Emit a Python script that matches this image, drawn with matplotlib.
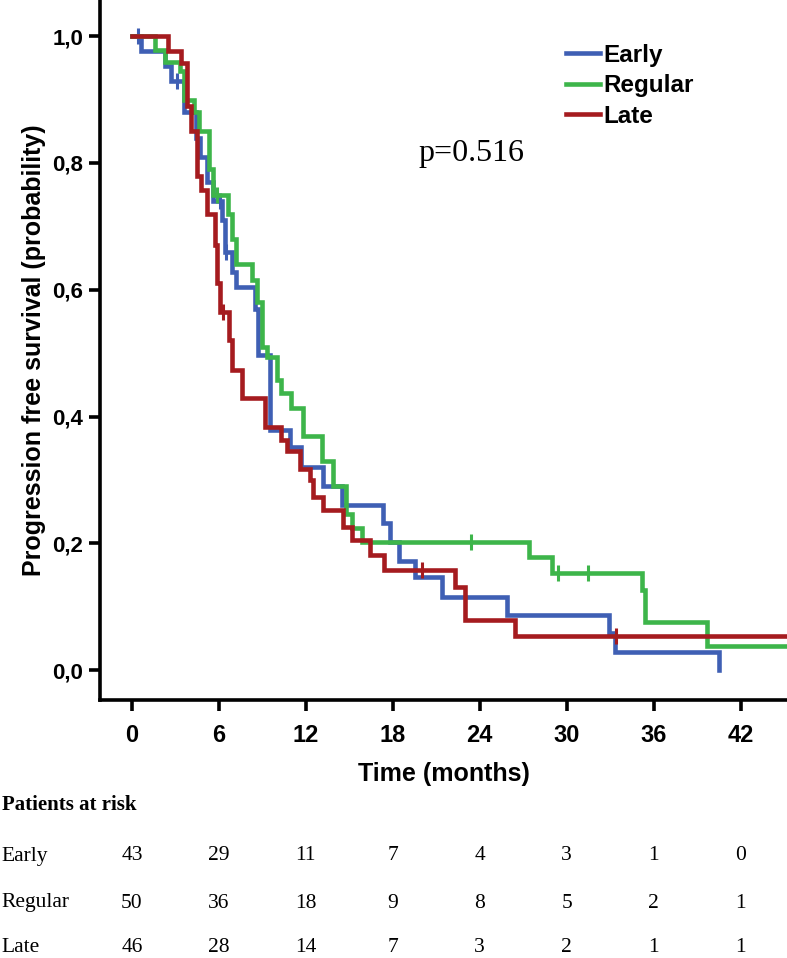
import matplotlib.pyplot as plt
import numpy as np
from matplotlib.transforms import blended_transform_factory

# curvas de Kaplan-Meier (tempo do evento, sobrevida depois do degrau)
early_t = [0, 0.6, 2.3, 2.7, 3.6, 4.4, 4.7, 5.2, 5.6, 6.2, 6.4, 6.9, 7.2, 8.5, 8.7, 9.5,
           10.9, 11.7, 13.2, 14.5, 17.3, 17.8, 18.4, 19.5, 21.4, 25.9, 32.9, 33.3, 40.5]
early_s = [1.0, 0.977, 0.953, 0.930, 0.880, 0.840, 0.810, 0.770, 0.740, 0.710, 0.660, 0.628,
           0.604, 0.570, 0.497, 0.379, 0.352, 0.320, 0.290, 0.260, 0.232, 0.202, 0.173, 0.147,
           0.115, 0.087, 0.058, 0.028, 0.0]
early_cens = [0.4, 3.1, 6.1, 6.5]
early_fim = 40.5

regular_t = [0, 1.6, 2.3, 3.3, 3.6, 4.3, 4.6, 5.3, 5.6, 6.6, 6.9, 7.2, 8.3, 8.6, 9.0, 9.3,
             10.0, 10.3, 11.0, 11.8, 13.1, 13.9, 14.8, 15.2, 15.9, 27.4, 29.0, 35.2, 35.4, 39.7]
regular_s = [1.0, 0.978, 0.960, 0.945, 0.900, 0.880, 0.850, 0.790, 0.750, 0.720, 0.680, 0.640,
             0.615, 0.580, 0.510, 0.494, 0.457, 0.437, 0.413, 0.370, 0.330, 0.290, 0.247, 0.225,
             0.202, 0.178, 0.153, 0.127, 0.076, 0.038]
regular_cens = [5.9, 23.4, 29.4, 31.5]
regular_fim = 46

late_t = [0, 2.5, 3.4, 3.8, 4.1, 4.5, 4.8, 5.2, 5.7, 5.9, 6.1, 6.7, 6.9, 7.6, 9.2, 10.3,
          10.7, 11.6, 12.3, 12.5, 13.2, 14.6, 15.2, 16.4, 17.4, 22.3, 23.0, 26.4]
late_s = [1.0, 0.976, 0.957, 0.890, 0.850, 0.780, 0.757, 0.720, 0.670, 0.610, 0.565, 0.520,
          0.473, 0.430, 0.383, 0.363, 0.345, 0.318, 0.300, 0.273, 0.252, 0.226, 0.205, 0.181,
          0.158, 0.131, 0.079, 0.054]
late_cens = [6.3, 20.0, 33.4]
late_fim = 46

grupos = ['Early', 'Regular', 'Late']
cores = ['#3f5fb4', '#3db54a', '#a51b1f']

# pacientes em risco
tempos_risco = [0, 6, 12, 18, 24, 30, 36, 42]
risco_early = [43, 29, 11, 7, 4, 3, 1, 0]
risco_regular = [50, 36, 18, 9, 8, 5, 2, 1]
risco_late = [46, 28, 14, 7, 3, 2, 1, 1]

curvas = [(early_t, early_s, early_cens, early_fim),
          (regular_t, regular_s, regular_cens, regular_fim),
          (late_t, late_s, late_cens, late_fim)]
riscos = [risco_early, risco_regular, risco_late]

sans = ['Liberation Sans', 'DejaVu Sans']
serif = ['Liberation Serif', 'DejaVu Serif']

fig = plt.figure(figsize=(7.87, 9.58), dpi=100)
ax = fig.add_axes([100 / 787, 1 - 700 / 958, 1 - 100 / 787, 700 / 958])

for (t, s, cens, fim), nome, cor in zip(curvas, grupos, cores):
    tt = list(t) + [fim]
    ss = list(s) + [s[-1]]
    ax.step(tt, ss, where='post', color=cor, lw=3.3, label=nome, solid_joinstyle='miter')
    # marcas de censura em cima da curva
    idx = np.searchsorted(t, cens, side='right') - 1
    ax.plot(cens, np.array(s)[idx], ls='none', marker='|', ms=11, mew=2.2, color=cor)

ax.set_xlim(-2.2, 45.2)
ax.set_ylim(-0.047, 1.057)
ax.set_xticks(tempos_risco)
ax.set_yticks([0, 0.2, 0.4, 0.6, 0.8, 1.0])
ax.set_yticklabels(['0,0', '0,2', '0,4', '0,6', '0,8', '1,0'])

for lado in ['top', 'right']:
    ax.spines[lado].set_visible(False)
for lado in ['left', 'bottom']:
    ax.spines[lado].set_linewidth(2.6)
ax.tick_params(direction='out', length=8, width=2.6)
ax.tick_params(axis='x', pad=9)
ax.tick_params(axis='y', pad=4)
for lab in ax.get_xticklabels():
    lab.set_family(sans)
    lab.set_fontweight('bold')
    lab.set_fontsize(17)
for lab in ax.get_yticklabels():
    lab.set_family(sans)
    lab.set_fontweight('bold')
    lab.set_fontsize(16)

ax.set_xlabel('Time (months)', family=sans, fontweight='bold', fontsize=18, labelpad=11)
ax.set_ylabel('Progression free survival (probability)', family=sans, fontweight='bold',
              fontsize=18, labelpad=5)

leg = ax.legend(loc='upper left', bbox_to_anchor=(566 / 787, 1 - 44 / 958),
                bbox_transform=fig.transFigure, frameon=False, handlelength=1.4,
                handletextpad=0.12, labelspacing=0.3, borderpad=0, borderaxespad=0,
                prop={'family': sans, 'weight': 'bold', 'size': 17.5})

ax.text(19.8, 0.815, 'p=0.516', family=serif, fontsize=23, ha='left', va='center')

# tabela de pacientes em risco
trans = blended_transform_factory(ax.transData, fig.transFigure)
fig.text(0.002, 1 - 805 / 958, 'Patients at risk', family=serif, fontweight='bold',
         fontsize=15, ha='left', va='center')
linhas_y = [856, 903, 947]
for nome, valores, yy in zip(grupos, riscos, linhas_y):
    fig.text(0.002, 1 - yy / 958, nome, family=serif, fontsize=15.5,
             ha='left', va='center')
    for x, v in zip(tempos_risco, valores):
        ax.text(x, 1 - yy / 958, str(v), transform=trans, family=serif, fontsize=15.5,
                ha='center', va='center', clip_on=False)

fig.savefig('out.png', dpi=100)
